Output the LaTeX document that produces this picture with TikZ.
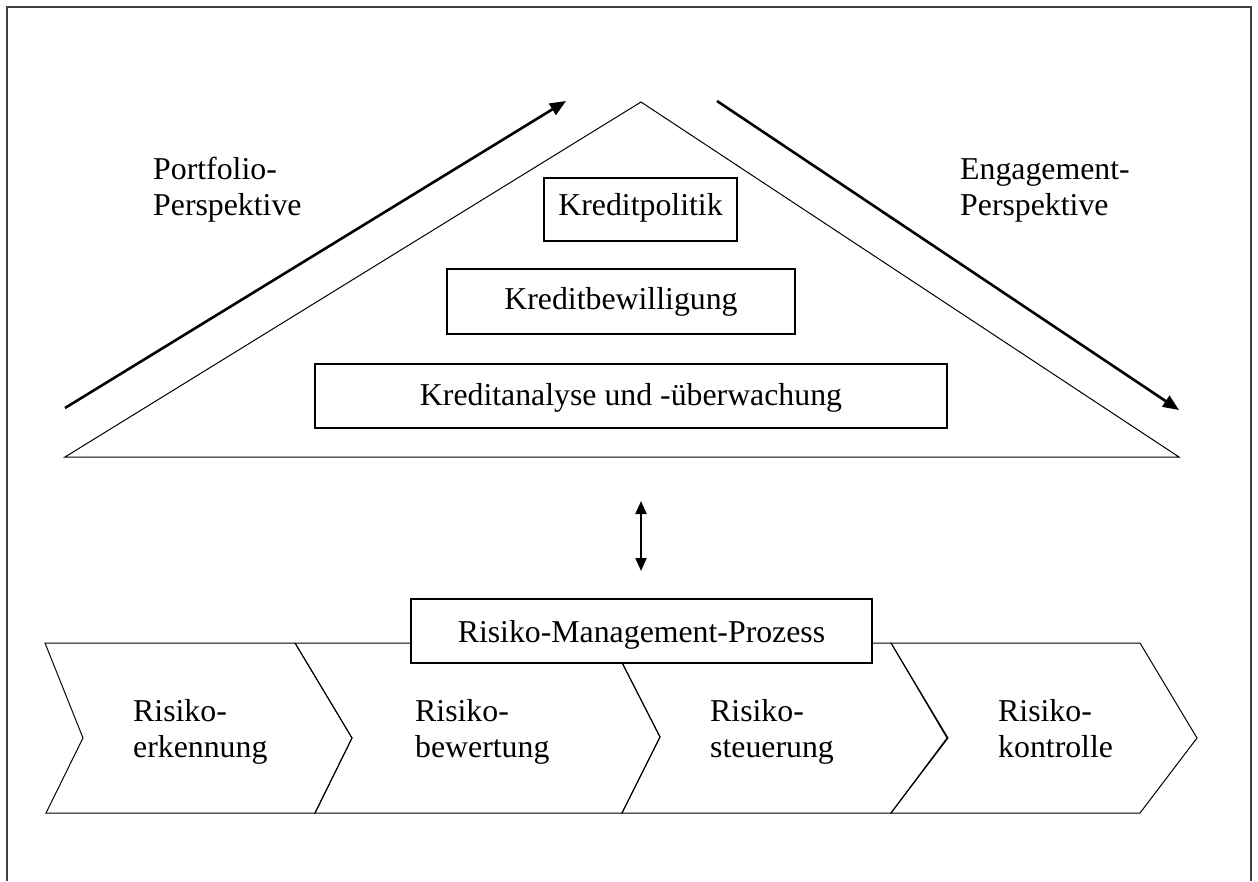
\documentclass[tikz,border=0pt]{standalone}
\usepackage{fontspec}
\setmainfont{Liberation Serif}
\usetikzlibrary{arrows.meta}
\begin{document}
\begin{tikzpicture}[x=1pt,y=-1pt,
  every node/.style={font=\fontsize{31.8}{36}\selectfont, inner sep=0pt},
  thin line/.style={line width=1pt, line join=miter},
  box/.style={draw, line width=1.1pt, fill=white},
  bigarrow/.style={line width=2.6pt, -{Triangle[length=16pt,width=13pt]}},
  dblarrow/.style={line width=2pt, {Triangle[length=13pt,width=11pt]}-{Triangle[length=13pt,width=11pt]}},
  label/.style={anchor=base west, align=left}]
\useasboundingbox (0,0) rectangle (1258,881);
% frame
\draw[line width=1.6pt, draw=black!75] (7,881) -- (7,7) -- (1251,7) -- (1251,881);
% triangle
\coordinate (apex) at (641,102);
\coordinate (bl) at (65,457);
\coordinate (br) at (1179,457);
\draw[thin line] (bl) -- (apex) -- (br) -- cycle;
% perspective arrows
\coordinate (la1) at (65,408);
\coordinate (la2) at (566,101);
\coordinate (ra1) at (717,101);
\coordinate (ra2) at (1179,410);
\draw[bigarrow] (la1) -- (la2);
\draw[bigarrow] (ra1) -- (ra2);
\node[label] (pf) at (153,215) {Portfolio-\\Perspektive};
\node[label] (eg) at (960,215) {Engagement-\\Perspektive};
% boxes
\node[box, minimum width=193pt, minimum height=63pt, text height=20.5pt, text depth=9.5pt] (kp) at (640.5,209.5) {Kreditpolitik};
\node[box, minimum width=348pt, minimum height=65pt, text height=22.5pt, text depth=7.5pt] (kb) at (621,301.5) {Kreditbewilligung};
\node[box, minimum width=632pt, minimum height=64pt, text height=24pt, text depth=6pt] (ka) at (631,396) {Kreditanalyse und -überwachung};
% chevrons
\draw[thin line] (45,643) -- (295,643) -- (352,738) -- (315,813) -- (46,813) -- (83,738) -- cycle;
\draw[thin line] (295,643) -- (612,643) -- (660,737) -- (622,813) -- (315,813) -- (352,738) -- cycle;
\draw[thin line] (612,643) -- (891,643) -- (948,738) -- (891,813) -- (622,813) -- (660,737) -- cycle;
\draw[thin line] (891,643) -- (1140,643) -- (1197,738) -- (1140,813) -- (891,813) -- (947,738) -- cycle;
\node[label] (c1) at (133,757) {Risiko-\\erkennung};
\node[label] (c2) at (415,757) {Risiko-\\bewertung};
\node[label] (c3) at (710,757) {Risiko-\\steuerung};
\node[label] (c4) at (998,757) {Risiko-\\kontrolle};
% process box
\node[box, minimum width=461pt, minimum height=64pt, text height=26pt, text depth=4pt] (rmp) at (641.5,631) {Risiko-Management-Prozess};
% double arrow
\coordinate (d1) at (641,501);
\coordinate (d2) at (641,571);
\draw[dblarrow] (d1) -- (d2);
\end{tikzpicture}
\end{document}
